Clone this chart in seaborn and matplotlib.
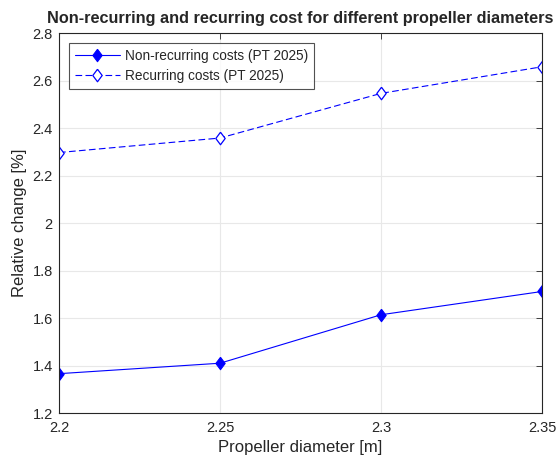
import pandas as pd
import seaborn as sns
import matplotlib.pyplot as plt

# Dados
diametros = [2.2, 2.25, 2.3, 2.35]
nao_recorrente = [1.366, 1.410, 1.614, 1.712]
recorrente = [2.297, 2.358, 2.546, 2.658]
rotulos = ['Non-recurring costs (PT 2025)', 'Recurring costs (PT 2025)']

df = pd.DataFrame({
    'diametro': diametros * 2,
    'valor': nao_recorrente + recorrente,
    'serie': [rotulos[0]] * 4 + [rotulos[1]] * 4,
})

sns.set_style('white')
plt.rcParams['font.family'] = ['Liberation Sans', 'DejaVu Sans']

fig = plt.figure(figsize=(5.57, 4.59), dpi=100, facecolor='white')
ax = fig.add_axes([0.106, 0.100, 0.867, 0.828])

azul = '#0000ff'
# losango estilo MATLAB (mais alto que largo)
losango = [(0, 1), (0.75, 0), (0, -1), (-0.75, 0), (0, 1)]
sns.lineplot(data=df[df['serie'] == rotulos[0]], x='diametro', y='valor', color=azul,
             marker=losango, markersize=9, markerfacecolor=azul, markeredgecolor=azul,
             linewidth=0.8, label=rotulos[0], ax=ax)
sns.lineplot(data=df[df['serie'] == rotulos[1]], x='diametro', y='valor', color=azul,
             marker=losango, markersize=9, markerfacecolor='white', markeredgecolor=azul,
             markeredgewidth=0.9, linestyle=(0, (6, 3)), linewidth=0.8, label=rotulos[1], ax=ax)

ax.set_xlim(2.2, 2.35)
ax.set_ylim(1.2, 2.8)
ax.set_xticks([2.2, 2.25, 2.3, 2.35])
ax.set_xticklabels(['2.2', '2.25', '2.3', '2.35'])
ax.set_yticks([1.2, 1.4, 1.6, 1.8, 2.0, 2.2, 2.4, 2.6, 2.8])
ax.set_yticklabels(['1.2', '1.4', '1.6', '1.8', '2', '2.2', '2.4', '2.6', '2.8'])
ax.grid(True, color='#e8e8e8', linewidth=0.8)
ax.set_axisbelow(True)
for s in ax.spines.values():
    s.set_color('#262626')
    s.set_linewidth(0.8)
ax.tick_params(direction='in', length=4, width=0.6, colors='#262626', labelsize=10.5,
               top=True, right=True, labelcolor='#262626')
ax.tick_params(axis='y', pad=4.5)
ax.tick_params(axis='x', pad=6)

ax.set_xlabel('Propeller diameter [m]', fontsize=12, color='#262626', labelpad=3)
ax.set_ylabel('Relative change [%]', fontsize=12, color='#262626', labelpad=4)
ax.set_title('Non-recurring and recurring cost for different propeller diameters',
             fontsize=11.7, fontweight='bold', pad=7)

leg = ax.legend(loc='upper left', fontsize=9.8, frameon=True, fancybox=False,
                edgecolor='#262626', borderaxespad=0.7, handlelength=3.3,
                borderpad=0.45, labelspacing=0.45, handletextpad=0.4)
leg.get_frame().set_linewidth(0.8)

plt.savefig('out.png', dpi=100)
plt.close()
